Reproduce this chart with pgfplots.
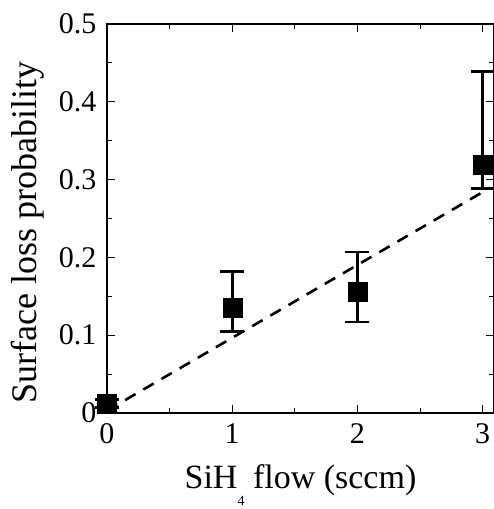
\documentclass[border=0pt]{standalone}
\usepackage{pgfplots}
\pgfplotsset{compat=1.18}
\usepackage{fontspec}
\setmainfont{Liberation Serif}
\begin{document}
\begin{tikzpicture}
\begin{axis}[
  name=ax,
  scale only axis, width=387pt, height=389pt,
  xmin=0, xmax=3.09, ymin=0, ymax=0.5,
  xtick={0,1,2,3}, minor xtick={0.5,1.5,2.5},
  ytick={0,0.1,0.2,0.3,0.4,0.5}, minor ytick={0.05,0.15,0.25,0.35,0.45},
  yticklabels={0,0.1,0.2,0.3,0.4,0.5},
  tick align=inside, major tick length=8pt, minor tick length=5pt,
  axis line style={line width=1.2pt}, tick style={line width=1.2pt, black},
  ticklabel style={font=\fontsize{30}{36}\selectfont},
  /pgf/number format/assume math mode=true,
  xlabel={SiH\raisebox{-0.5em}{\fontsize{14}{16}\selectfont 4} flow (sccm)},
  ylabel={Surface loss probability},
  xlabel style={font=\fontsize{34}{40}\selectfont, yshift=-14pt},
  ylabel style={font=\fontsize{36}{42}\selectfont, yshift=8pt, xshift=-14pt},
  xticklabel style={yshift=-7pt},
  yticklabel style={xshift=-7pt},
  clip=false]
\addplot[black, line width=2.6pt, dash pattern=on 12pt off 9pt] coordinates {(0,0.003) (3,0.284)};
\addplot[only marks, mark=square*, mark size=9.5pt, black,
  error bars/.cd, y dir=both, y explicit,
  error bar style={line width=2.8pt},
  error mark options={rotate=90, mark size=12pt, line width=2.8pt}]
  coordinates {
  (0,0.012) +- (0,0.005)
  (1,0.135) += (0,0.047) -= (0,0.030)
  (2,0.1555) += (0,0.0515) -= (0,0.0385)
  (3,0.319) += (0,0.12) -= (0,0.030)
  };
\end{axis}
\pgfresetboundingbox
\path ([xshift=-107pt,yshift=-96pt]ax.south west) rectangle ([yshift=24pt]ax.north east);
\end{tikzpicture}
\end{document}
